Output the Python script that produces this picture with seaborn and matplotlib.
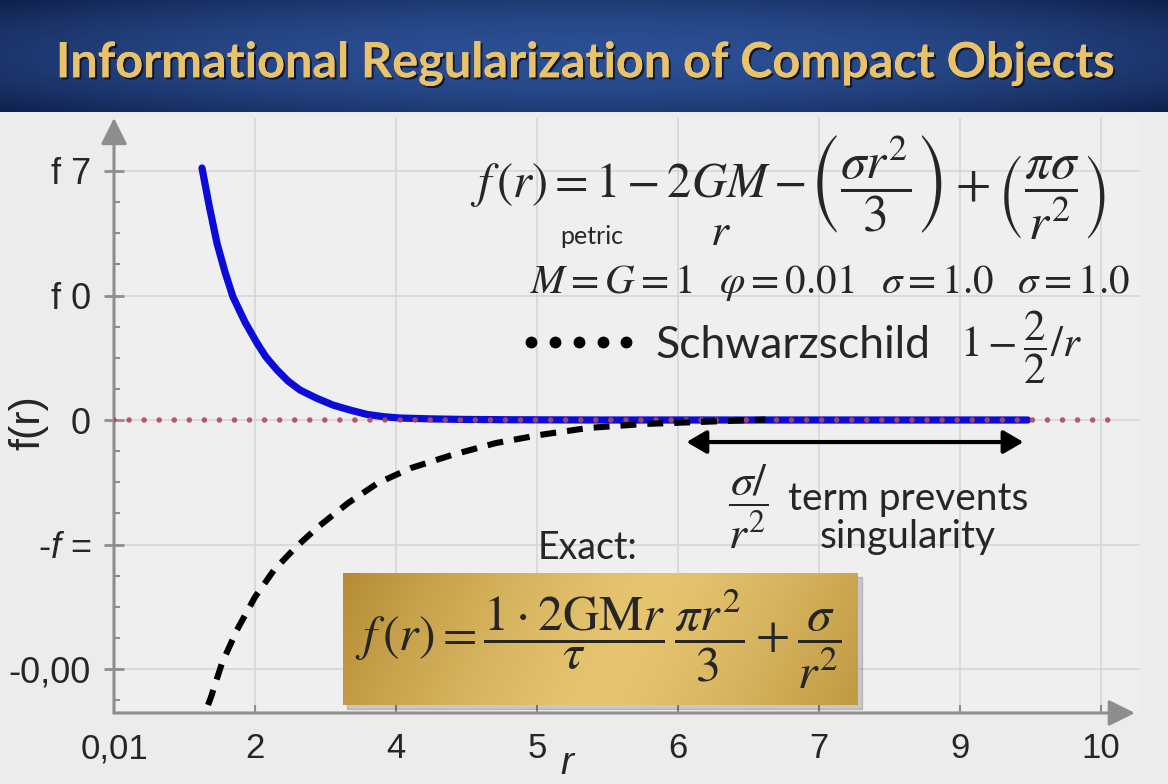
import numpy as np
import pandas as pd
import matplotlib
matplotlib.use("Agg")
import matplotlib.pyplot as plt
import matplotlib.patheffects as pe
from matplotlib.lines import Line2D
from matplotlib.patches import Rectangle
from matplotlib.ticker import MultipleLocator
import seaborn as sns

# tick labels as printed on the chart (ticks sit at index positions 0..7 / -2..2)
x_tick_labels = ["0,01", "2", "4", "5", "6", "7", "9", "10"]
y_tick_values = [-2, -1, 0, 1, 2]
y_tick_labels = ["-0,00", r"-$f$ =", "0", "f 0", "f 7"]

# regularized metric (blue)
reg_r = [0.624, 0.674, 0.730, 0.787, 0.844, 0.929, 1.014, 1.078, 1.156, 1.234, 1.319,
         1.433, 1.553, 1.674, 1.794, 1.915, 2.028, 2.25, 2.45, 2.80, 3.45, 4.50, 5.50, 6.48]
reg_f = [2.024, 1.727, 1.422, 1.189, 0.988, 0.787, 0.618, 0.506, 0.402, 0.313, 0.241,
         0.177, 0.120, 0.080, 0.045, 0.026, 0.016, 0.009, 0.005, 0.002, 0.0, 0.0, 0.0, 0.0]

# Schwarzschild 1 - 2M/r (black dashed)
schw_r = [0.667, 0.688, 0.766, 0.872, 1.000, 1.135, 1.291, 1.447, 1.660, 1.872,
          2.106, 2.397, 2.709, 3.021, 3.362, 3.759, 4.149, 4.62]
schw_f = [-2.289, -2.225, -1.952, -1.687, -1.422, -1.205, -1.020, -0.859, -0.667, -0.506,
          -0.386, -0.281, -0.185, -0.120, -0.064, -0.032, -0.016, 0.004]

# horizon reference line f = 0
zero_r = [0.0, 7.09]
zero_f = [0.0, 0.0]

sns.set_style("whitegrid")
plt.rcParams["font.family"] = ["Liberation Sans", "DejaVu Sans"]
plt.rcParams["mathtext.fontset"] = "custom"
plt.rcParams["mathtext.rm"] = "Liberation Sans"
plt.rcParams["mathtext.it"] = "Liberation Sans:italic"

W, H = 1168, 784
fig = plt.figure(figsize=(W / 100, H / 100), dpi=100)
fig.patch.set_facecolor("#ececec")


def fx(x):
    return x / W


def fy(y):
    return 1 - y / H


# title banner
bax = fig.add_axes([0, fy(112), 1, 112 / H])
gx = np.linspace(-1, 1, 300)
gy = np.linspace(-1, 1, 60)
GX, GY = np.meshgrid(gx, gy)
light = np.clip(1 - 0.55 * GX ** 2 - 0.45 * GY ** 2, 0, 1)
dark = np.array([0.06, 0.13, 0.30])
bright = np.array([0.17, 0.31, 0.58])
img = dark + (bright - dark) * light[..., None]
bax.imshow(img, aspect="auto", extent=[0, 1, 0, 1])
bax.axis("off")
fig.text(fx(586), fy(63), "Informational Regularization of Compact Objects",
         ha="center", va="center", fontsize=35, family="Lato", weight="bold",
         color="#e9c269",
         path_effects=[pe.withSimplePatchShadow(offset=(1.5, -1.5), shadow_rgbFace="#060d22", alpha=0.8),
                       pe.Normal()])

# main axes
ax = fig.add_axes([fx(114), fy(713), fx(1140) - fx(114), fy(118) - fy(713)])
ax.set_facecolor("#efefef")

reg_df = pd.DataFrame({"r": reg_r, "f": reg_f})
schw_df = pd.DataFrame({"r": schw_r, "f": schw_f})
zero_df = pd.DataFrame({"r": zero_r, "f": zero_f})

sns.lineplot(data=reg_df, x="r", y="f", ax=ax, sort=False, color="#0c0cd8", lw=5.2,
             solid_capstyle="round", solid_joinstyle="round", zorder=3)
sns.lineplot(data=zero_df, x="r", y="f", ax=ax, sort=False, color="#b04a58", lw=4.0,
             linestyle=(0, (0.01, 2.7)), dash_capstyle="round", alpha=0.9, zorder=4)
sns.lineplot(data=schw_df, x="r", y="f", ax=ax, sort=False, color="black", lw=4.4,
             linestyle=(0, (2.6, 1.8)), zorder=5)

ax.set_xlim(0, (1140 - 114) / 141)
ax.set_ylim(-(713 - 420) / 124.5, (420 - 118) / 124.5)

ax.set_xticks(range(len(x_tick_labels)))
ax.set_xticklabels(x_tick_labels)
ax.set_yticks(y_tick_values)
ax.set_yticklabels(y_tick_labels)
ax.yaxis.set_minor_locator(MultipleLocator(0.25))
ax.tick_params(axis="y", which="major", direction="inout", length=15, width=2,
               color="#8e8e8e", pad=9, labelsize=26, left=True)
ax.tick_params(axis="y", which="minor", direction="in", length=4.5, width=1.5,
               color="#8e8e8e", left=True)
ax.tick_params(axis="x", which="major", direction="in", length=6, width=1.5,
               color="#8e8e8e", pad=14, labelsize=25, bottom=True)
ax.grid(True, which="major", color="#d6d6d6", lw=1.2)
ax.grid(False, which="minor")
ax.set_axisbelow(True)
for s in ax.spines.values():
    s.set_visible(False)

ax.annotate("", xy=(0.995, 0), xycoords="axes fraction", xytext=(0, 0),
            arrowprops=dict(arrowstyle="-|>,head_length=0.8,head_width=0.4", color="#8e8e8e",
                            lw=2.2, mutation_scale=20, shrinkA=0, shrinkB=0),
            annotation_clip=False)
ax.annotate("", xy=(0, 1.0), xycoords="axes fraction", xytext=(0, 0),
            arrowprops=dict(arrowstyle="-|>,head_length=0.8,head_width=0.4", color="#8e8e8e",
                            lw=2.2, mutation_scale=20, shrinkA=0, shrinkB=0),
            annotation_clip=False)

ax.set_xlabel("r", fontsize=28, style="italic", va="center")
ax.xaxis.set_label_coords((567 - 114) / 1026, -(764 - 713) / 595)
ax.set_ylabel("f(r)", fontsize=31, va="center")
ax.yaxis.set_label_coords((28 - 114) / 1026, (713 - 423) / 595)

# double arrow marking the regularized region
ax.annotate("", xy=(6.45, -0.177), xytext=(4.06, -0.177),
            arrowprops=dict(arrowstyle="<|-|>,head_length=0.6,head_width=0.35", color="black",
                            lw=3, mutation_scale=20, shrinkA=0, shrinkB=0))

# equations and notes
fig.text(fx(470), fy(185), r"$f\,(r) = 1 - 2GM -$",
         ha="left", va="center", fontsize=35, math_fontfamily="stix")
fig.text(fx(1105), fy(188),
         r"$\left(\dfrac{\sigma r^2}{3}\right) + \left(\dfrac{\pi\sigma}{r^2}\right)$",
         ha="right", va="center", fontsize=37, math_fontfamily="stix")
fig.text(fx(720), fy(233), r"$r$", ha="center", va="center", fontsize=33, math_fontfamily="stix")
fig.text(fx(592), fy(236), "petric", ha="center", va="center", fontsize=18, family="Lato")
fig.text(fx(1130), fy(283),
         r"$M = G = 1\;\;\;\varphi = 0.01\;\;\;\sigma = 1.0\;\;\;\sigma = 1.0$",
         ha="right", va="center", fontsize=29.5, math_fontfamily="stix")

dot_handle = Line2D([], [], ls="none", marker="o", ms=7.5, color="black")
fig.legend(handles=[dot_handle], labels=["Schwarzschild"], numpoints=5,
           loc="center left", bbox_to_anchor=(fx(518), fy(345)), frameon=False,
           prop=dict(family="Lato", size=32), handlelength=2.74, handletextpad=0.36,
           borderpad=0, borderaxespad=0)
fig.text(fx(960), fy(347), r"$1 - \dfrac{2}{2}/r$", ha="left", va="center",
         fontsize=31, math_fontfamily="stix")

fig.text(fx(748), fy(507), r"$\dfrac{\sigma/}{r^2}$", ha="center", va="center",
         fontsize=33, math_fontfamily="stix")
fig.text(fx(908), fy(518), "term prevents\nsingularity", ha="center", va="center",
         fontsize=28, family="Lato", linespacing=1.1)
fig.text(fx(588), fy(548), "Exact:", ha="center", va="center", fontsize=27, family="Lato")

# gold box with the exact expression
fig.patches.append(Rectangle((fx(347), fy(709)), fx(858) - fx(343), (705 - 573) / H,
                             transform=fig.transFigure, color="black", alpha=0.16, zorder=5))
gold = fig.add_axes([fx(343), fy(705), fx(858) - fx(343), (705 - 573) / H], zorder=6)
tx = np.linspace(0, 1, 400)
ty = np.linspace(0, 1, 80)
TX, TY = np.meshgrid(tx, ty)
shine = np.clip(1 - 2.0 * np.abs(TX - 0.55 + 0.12 * (TY - 0.5)) ** 1.4, 0, 1)
g_dark = np.array([0.71, 0.55, 0.21])
g_light = np.array([0.90, 0.77, 0.44])
gold.imshow(g_dark + (g_light - g_dark) * shine[..., None], aspect="auto", extent=[0, 1, 0, 1])
gold.axis("off")
gold.text(0.495, 0.5,
          r"$f\,(r) = \dfrac{1\cdot 2\mathrm{GM}r}{\tau}\,\dfrac{\pi r^2}{3} + \dfrac{\sigma}{r^2}$",
          ha="center", va="center", fontsize=36, math_fontfamily="stix", transform=gold.transAxes)

fig.savefig("out.png", dpi=100, facecolor=fig.get_facecolor())
